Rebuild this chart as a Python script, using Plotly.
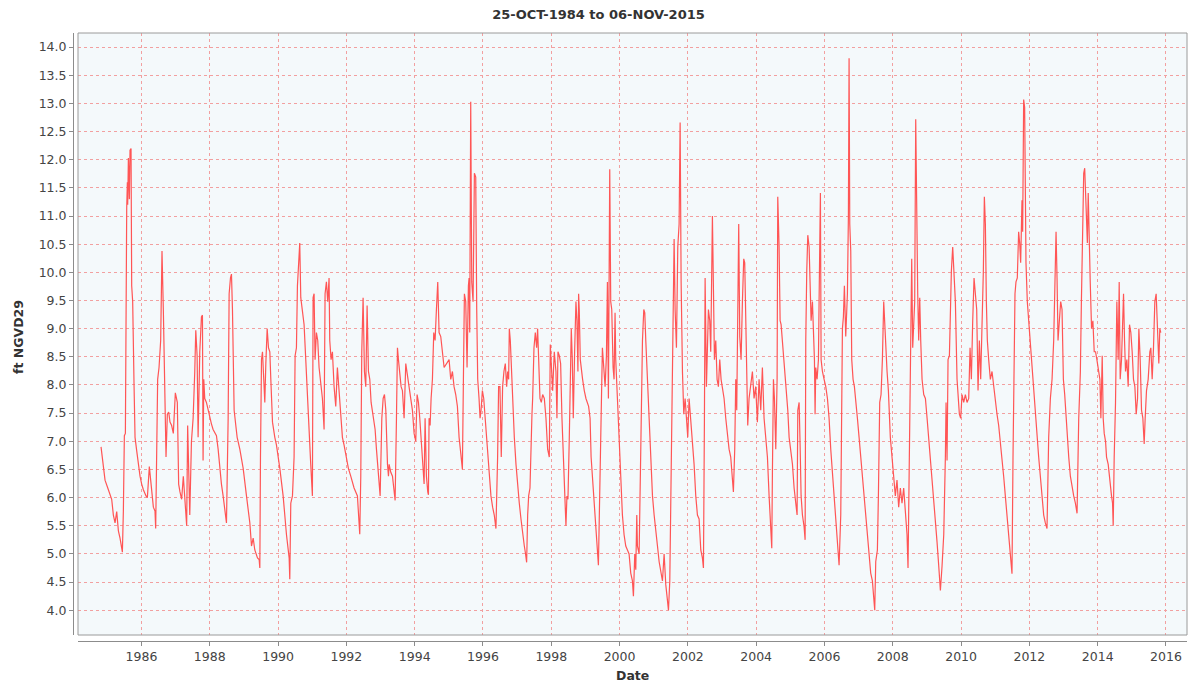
import datetime as dt
import plotly.graph_objects as go

# (decimal year, stage ft NGVD29) readings, grouped by period
stage_1984_1987 = [(1984.814,6.90),(1984.882,6.52),(1984.931,6.31),(1985.029,6.14),(1985.126,5.97),(1985.175,5.69),(1985.224,5.55),(1985.273,5.75),(1985.322,5.41),(1985.370,5.28),(1985.439,5.03),(1985.468,5.76),(1985.497,7.10),(1985.527,7.14),(1985.546,11.0),(1985.566,11.14),(1985.585,11.6),(1985.595,11.2),(1985.615,12.03),(1985.644,11.3),(1985.663,12.17),(1985.693,12.2),(1985.712,9.76),(1985.741,9.48),(1985.780,8.03),(1985.810,7.07),(1985.859,6.83),(1985.907,6.59),(1985.956,6.38),(1986.005,6.24),(1986.054,6.14),(1986.132,6.03),(1986.171,6.00),(1986.229,6.55),(1986.269,6.31),(1986.298,6.03),(1986.347,5.83),(1986.395,5.76),(1986.415,5.45),(1986.473,8.10),(1986.513,8.31),(1986.561,8.79),(1986.600,10.38),(1986.639,9.34),(1986.659,8.59),(1986.688,7.41),(1986.718,6.72),(1986.757,7.48),(1986.796,7.52),(1986.835,7.34),(1986.883,7.28),(1986.932,7.14),(1986.991,7.86),(1987.049,7.69),(1987.088,6.24),(1987.127,6.10),(1987.176,5.97),(1987.225,6.38),(1987.284,5.76),(1987.323,5.50),(1987.352,7.28),(1987.381,6.20)]

stage_1987_1990 = [(1987.414,5.69),(1987.463,7.00),(1987.512,7.41),(1987.560,8.24),(1987.590,8.97),(1987.629,8.52),(1987.658,7.07),(1987.707,8.59),(1987.756,9.21),(1987.785,9.24),(1987.804,6.66),(1987.824,8.10),(1987.853,7.76),(1987.902,7.69),(1987.951,7.55),(1988.000,7.41),(1988.048,7.31),(1988.097,7.21),(1988.195,7.10),(1988.244,6.86),(1988.292,6.52),(1988.341,6.24),(1988.390,6.03),(1988.439,5.76),(1988.488,5.55),(1988.537,7.41),(1988.566,9.62),(1988.605,9.90),(1988.634,9.97),(1988.663,9.34),(1988.712,7.55),(1988.761,7.28),(1988.800,7.07),(1988.878,6.86),(1988.976,6.52),(1989.073,6.03),(1989.171,5.55),(1989.220,5.14),(1989.269,5.28),(1989.317,5.07),(1989.395,4.93),(1989.444,4.90),(1989.464,4.75),(1989.483,6.72),(1989.513,8.45),(1989.542,8.59),(1989.581,7.90),(1989.610,7.69),(1989.640,8.38),(1989.679,9.00),(1989.718,8.66),(1989.757,8.59),(1989.786,8.10),(1989.835,7.34),(1989.903,7.07),(1989.952,6.93),(1990.050,6.52),(1990.147,6.03),(1990.245,5.34),(1990.323,4.93)]

stage_1990_1993 = [(1990.342,4.55),(1990.371,5.90),(1990.420,6.03),(1990.468,6.72),(1990.498,8.52),(1990.537,8.66),(1990.566,9.76),(1990.595,10.17),(1990.634,10.52),(1990.664,9.55),(1990.712,9.34),(1990.761,9.07),(1990.810,8.45),(1990.859,7.76),(1990.908,7.07),(1990.956,6.59),(1991.005,6.03),(1991.025,9.55),(1991.054,9.62),(1991.083,8.45),(1991.122,8.93),(1991.161,8.79),(1991.200,8.31),(1991.249,7.97),(1991.298,7.76),(1991.347,7.21),(1991.376,9.62),(1991.415,9.83),(1991.454,9.48),(1991.493,9.90),(1991.513,8.79),(1991.552,8.45),(1991.591,8.59),(1991.640,7.97),(1991.689,7.62),(1991.737,8.31),(1991.786,7.83),(1991.835,7.41),(1991.884,7.07),(1991.933,6.93),(1992.001,6.72),(1992.059,6.52),(1992.128,6.38),(1992.225,6.17),(1992.323,6.03),(1992.391,5.35),(1992.421,6.38),(1992.450,8.59),(1992.489,9.55),(1992.528,8.24),(1992.567,7.97),(1992.606,9.41),(1992.645,8.24),(1992.684,8.10),(1992.723,7.69),(1992.782,7.41),(1992.840,7.21),(1992.879,6.86),(1992.938,6.38),(1992.987,6.03),(1993.036,7.41),(1993.075,7.76),(1993.114,7.83),(1993.153,7.55),(1993.202,6.59),(1993.231,6.38)]

stage_1993_1996 = [(1993.250,6.59),(1993.299,6.45),(1993.348,6.38),(1993.396,6.17),(1993.426,5.95),(1993.465,7.41),(1993.494,8.66),(1993.523,8.45),(1993.562,8.24),(1993.601,7.97),(1993.640,7.90),(1993.689,7.41),(1993.738,8.38),(1993.787,8.17),(1993.836,7.97),(1993.884,7.76),(1993.933,7.55),(1993.982,7.14),(1994.031,7.00),(1994.070,7.83),(1994.109,7.69),(1994.148,7.41),(1994.187,7.07),(1994.226,6.72),(1994.275,6.24),(1994.304,7.41),(1994.343,6.38),(1994.382,6.10),(1994.402,6.05),(1994.421,7.41),(1994.451,7.28),(1994.480,7.76),(1994.519,8.10),(1994.558,8.93),(1994.597,8.79),(1994.636,9.34),(1994.675,9.83),(1994.714,8.93),(1994.763,8.86),(1994.861,8.31),(1995.007,8.45),(1995.056,8.10),(1995.105,8.24),(1995.153,7.97),(1995.202,7.83),(1995.251,7.62),(1995.300,7.07),(1995.349,6.79),(1995.378,6.66),(1995.397,6.50),(1995.427,8.10),(1995.456,9.62),(1995.495,9.48),(1995.534,8.31),(1995.573,9.76),(1995.593,9.90),(1995.612,8.93),(1995.641,13.03),(1995.671,9.83),(1995.710,9.48),(1995.749,11.76),(1995.788,11.69),(1995.817,9.34),(1995.846,8.10),(1995.885,7.76),(1995.915,7.41),(1995.944,7.55),(1995.983,7.90),(1996.022,7.76),(1996.061,7.41),(1996.100,7.07),(1996.139,6.72),(1996.178,6.38)]

stage_1996_1999 = [(1996.233,6.03),(1996.282,5.83),(1996.330,5.69),(1996.379,5.45),(1996.399,5.90),(1996.428,6.72),(1996.457,7.97),(1996.496,7.97),(1996.535,6.72),(1996.574,7.97),(1996.613,8.24),(1996.653,8.38),(1996.692,7.97),(1996.721,8.24),(1996.750,8.10),(1996.770,9.00),(1996.799,8.79),(1996.828,8.31),(1996.867,7.76),(1996.916,7.07),(1996.965,6.59),(1997.014,6.17),(1997.062,5.90),(1997.111,5.62),(1997.160,5.34),(1997.209,5.14),(1997.238,5.03),(1997.277,4.85),(1997.307,5.69),(1997.336,6.03),(1997.375,6.17),(1997.404,7.07),(1997.433,7.48),(1997.453,7.76),(1997.492,8.66),(1997.531,8.93),(1997.570,8.66),(1997.599,9.00),(1997.629,8.45),(1997.668,7.76),(1997.707,7.69),(1997.746,7.83),(1997.795,7.76),(1997.843,7.41),(1997.892,6.86),(1997.941,6.72),(1997.970,8.72),(1998.000,8.31),(1998.039,7.90),(1998.087,8.59),(1998.136,8.24),(1998.165,7.41),(1998.195,8.59),(1998.234,8.52),(1998.273,8.38),(1998.312,7.41),(1998.351,6.72),(1998.390,6.03),(1998.429,5.50),(1998.458,6.03),(1998.488,5.97),(1998.527,7.07),(1998.556,8.24),(1998.585,9.00),(1998.615,8.45),(1998.644,7.41),(1998.683,8.59),(1998.722,9.48),(1998.751,9.14),(1998.780,8.24),(1998.800,9.62),(1998.819,9.34),(1998.849,8.45),(1998.878,8.24),(1998.917,8.10),(1998.966,7.90),(1999.015,7.76),(1999.093,7.62)]

stage_1999_2002 = [(1999.136,7.41),(1999.166,6.72),(1999.205,6.38),(1999.253,5.90),(1999.302,5.55),(1999.351,5.07),(1999.380,4.80),(1999.497,8.66),(1999.517,8.45),(1999.546,8.24),(1999.576,7.97),(1999.615,8.52),(1999.644,9.83),(1999.673,7.76),(1999.712,11.83),(1999.741,9.48),(1999.771,9.34),(1999.810,8.31),(1999.839,8.10),(1999.868,9.28),(1999.888,8.45),(1999.937,7.76),(1999.985,7.07),(2000.034,6.38),(2000.083,5.69),(2000.132,5.34),(2000.181,5.14),(2000.230,5.07),(2000.278,5.00),(2000.327,4.66),(2000.376,4.52),(2000.405,4.25),(2000.444,5.00),(2000.474,4.72),(2000.503,5.69),(2000.522,5.14),(2000.571,5.00),(2000.620,6.86),(2000.669,8.79),(2000.708,9.34),(2000.737,9.28),(2000.766,8.79),(2000.815,8.10),(2000.864,7.41),(2000.913,6.72),(2000.962,6.03),(2001.010,5.69),(2001.059,5.34),(2001.108,5.14),(2001.157,4.86),(2001.206,4.66),(2001.254,4.52),(2001.303,5.00),(2001.352,4.45),(2001.401,4.17),(2001.430,4.00),(2001.469,4.52),(2001.498,6.03),(2001.528,7.76),(2001.567,9.48),(2001.596,10.59),(2001.625,9.34),(2001.664,8.66),(2001.703,10.45),(2001.742,10.86),(2001.772,12.66),(2001.801,9.83),(2001.840,8.24),(2001.879,7.48),(2001.918,7.76),(2001.957,7.41),(2001.996,7.07)]

stage_2002_2005 = [(2002.035,7.76),(2002.084,7.41),(2002.133,7.07),(2002.181,6.59),(2002.230,6.03),(2002.279,5.69),(2002.328,5.62),(2002.377,5.07),(2002.425,4.93),(2002.455,4.75),(2002.484,7.41),(2002.504,9.90),(2002.543,7.97),(2002.572,9.07),(2002.601,9.34),(2002.640,9.14),(2002.669,8.59),(2002.718,11.00),(2002.748,9.48),(2002.777,8.45),(2002.816,8.79),(2002.855,8.10),(2002.894,7.97),(2002.933,8.45),(2002.972,8.10),(2003.011,7.97),(2003.060,7.76),(2003.109,7.41),(2003.158,7.07),(2003.206,6.86),(2003.255,6.72),(2003.304,6.38),(2003.333,6.10),(2003.372,6.86),(2003.402,8.10),(2003.431,7.55),(2003.460,9.07),(2003.489,10.86),(2003.519,8.86),(2003.558,8.45),(2003.597,9.48),(2003.636,10.24),(2003.665,10.17),(2003.694,9.14),(2003.724,8.10),(2003.753,7.28),(2003.792,7.76),(2003.841,7.97),(2003.890,8.24),(2003.938,7.76),(2003.987,7.97),(2004.036,7.34),(2004.085,8.10),(2004.134,7.55),(2004.182,8.31),(2004.231,7.41),(2004.280,7.07),(2004.329,6.72),(2004.378,6.03),(2004.426,5.48),(2004.456,5.10),(2004.475,6.45),(2004.505,8.10),(2004.534,7.76),(2004.573,6.86),(2004.612,8.10),(2004.631,11.34),(2004.670,10.45),(2004.700,9.14),(2004.729,9.07),(2004.768,8.79),(2004.817,8.45),(2004.866,7.97),(2004.924,7.55)]

stage_2005_2007 = [(2004.963,7.07),(2005.012,6.86),(2005.061,6.59),(2005.109,6.17),(2005.158,5.83),(2005.197,5.69),(2005.217,7.55),(2005.256,7.69),(2005.285,6.93),(2005.314,6.03),(2005.353,5.69),(2005.402,5.48),(2005.432,5.25),(2005.451,8.79),(2005.480,10.03),(2005.510,10.66),(2005.549,10.45),(2005.578,9.48),(2005.607,9.14),(2005.646,9.48),(2005.676,8.79),(2005.705,8.45),(2005.724,7.48),(2005.744,8.31),(2005.783,8.10),(2005.822,8.45),(2005.841,9.48),(2005.880,11.41),(2005.900,8.45),(2005.939,8.24),(2005.988,8.10),(2006.037,7.97),(2006.086,7.76),(2006.134,7.41),(2006.183,6.86),(2006.232,6.38),(2006.281,6.03),(2006.330,5.62),(2006.378,5.21),(2006.427,4.80),(2006.476,5.69),(2006.525,9.00),(2006.554,9.21),(2006.583,9.76),(2006.622,8.86),(2006.671,9.62),(2006.700,11.00),(2006.720,13.80),(2006.740,10.86),(2006.769,10.38),(2006.798,8.45),(2006.837,8.10),(2006.876,7.97),(2006.915,7.76),(2006.964,7.41),(2007.013,7.07),(2007.062,6.72),(2007.110,6.38),(2007.159,6.03),(2007.208,5.69),(2007.257,5.34),(2007.306,4.93),(2007.354,4.66),(2007.403,4.52),(2007.452,4.10),(2007.472,4.00),(2007.501,4.86),(2007.550,5.07),(2007.579,6.03),(2007.618,7.69),(2007.657,7.83),(2007.696,8.45),(2007.735,9.48),(2007.764,9.07),(2007.794,8.66),(2007.833,8.24),(2007.872,7.90)]

stage_2007_2010 = [(2007.929,7.07),(2007.978,6.72),(2008.026,6.31),(2008.075,6.03),(2008.124,6.31),(2008.173,5.83),(2008.222,6.17),(2008.270,5.90),(2008.319,6.17),(2008.368,5.69),(2008.417,5.34),(2008.446,4.75),(2008.485,7.07),(2008.524,8.79),(2008.554,10.24),(2008.583,8.66),(2008.612,9.28),(2008.641,9.48),(2008.671,12.72),(2008.700,10.86),(2008.729,9.62),(2008.758,8.79),(2008.788,9.55),(2008.817,8.79),(2008.856,8.10),(2008.905,7.83),(2008.954,7.76),(2009.003,7.41),(2009.051,7.07),(2009.100,6.72),(2009.149,6.38),(2009.198,6.03),(2009.247,5.55),(2009.295,5.21),(2009.344,4.79),(2009.393,4.35),(2009.442,4.79),(2009.491,5.34),(2009.539,6.72),(2009.559,7.69),(2009.588,6.66),(2009.617,8.45),(2009.657,8.52),(2009.686,9.48),(2009.715,10.03),(2009.754,10.45),(2009.793,9.90),(2009.832,9.48),(2009.881,8.10),(2009.910,7.76),(2009.949,7.48),(2009.988,7.41),(2010.027,7.83),(2010.076,7.69),(2010.125,7.83),(2010.174,7.69),(2010.223,7.76),(2010.262,8.66),(2010.301,8.10),(2010.340,9.14),(2010.379,9.90),(2010.418,9.62),(2010.457,9.34),(2010.496,7.90),(2010.535,8.79),(2010.574,8.10),(2010.613,8.93),(2010.652,10.03),(2010.681,11.34),(2010.711,10.86),(2010.740,9.48),(2010.769,8.79),(2010.808,8.45)]

stage_2010_2013 = [(2010.857,8.10),(2010.906,8.24),(2010.954,7.97),(2011.003,7.69),(2011.052,7.48),(2011.101,7.28),(2011.150,7.00),(2011.198,6.72),(2011.247,6.38),(2011.296,6.03),(2011.345,5.69),(2011.394,5.21),(2011.442,5.00),(2011.491,4.65),(2011.521,6.72),(2011.550,8.79),(2011.579,9.62),(2011.608,9.83),(2011.647,9.90),(2011.686,10.72),(2011.716,10.52),(2011.745,10.17),(2011.784,11.28),(2011.804,10.72),(2011.833,13.07),(2011.862,12.93),(2011.901,10.17),(2011.940,9.48),(2011.979,9.14),(2012.028,8.79),(2012.077,8.45),(2012.126,7.97),(2012.175,7.55),(2012.223,7.07),(2012.272,6.72),(2012.321,6.38),(2012.370,5.97),(2012.419,5.69),(2012.467,5.55),(2012.516,5.45),(2012.565,7.07),(2012.614,7.76),(2012.663,8.10),(2012.711,8.79),(2012.741,9.62),(2012.780,10.72),(2012.809,9.90),(2012.838,8.79),(2012.877,9.14),(2012.916,9.48),(2012.955,9.34),(2012.994,8.10),(2013.033,7.83),(2013.073,7.41),(2013.112,7.07),(2013.151,6.72),(2013.199,6.38),(2013.248,6.17),(2013.297,6.03),(2013.346,5.90),(2013.395,5.72),(2013.444,7.41),(2013.492,8.24),(2013.522,9.48),(2013.561,11.00),(2013.590,11.76),(2013.619,11.85),(2013.658,11.00),(2013.697,10.52)]

stage_2013_2015 = [(2013.722,11.41),(2013.751,10.17),(2013.781,9.83),(2013.820,9.00),(2013.859,9.14),(2013.898,8.59),(2013.937,8.59),(2013.976,8.45),(2014.015,8.31),(2014.064,8.10),(2014.093,7.41),(2014.112,7.76),(2014.132,8.52),(2014.161,7.41),(2014.191,7.14),(2014.230,7.00),(2014.259,6.72),(2014.308,6.59),(2014.356,6.24),(2014.405,6.03),(2014.435,5.90),(2014.454,5.50),(2014.483,6.72),(2014.522,7.69),(2014.561,9.48),(2014.600,8.45),(2014.630,9.83),(2014.659,8.10),(2014.698,8.45),(2014.737,9.34),(2014.757,9.62),(2014.786,8.79),(2014.815,8.24),(2014.854,8.45),(2014.893,7.97),(2014.932,9.07),(2014.971,8.93),(2015.010,8.59),(2015.049,8.10),(2015.089,7.97),(2015.128,7.48),(2015.167,7.76),(2015.206,9.00),(2015.245,8.45),(2015.284,7.55),(2015.323,7.41),(2015.362,6.95),(2015.391,7.41),(2015.430,7.90),(2015.479,8.10),(2015.528,8.59),(2015.557,8.66),(2015.596,8.10),(2015.635,8.66),(2015.674,9.48),(2015.713,9.62),(2015.752,9.07),(2015.791,8.38),(2015.820,9.00),(2015.849,8.93)]

y_ticks = [4.0 + 0.5 * i for i in range(21)]
title_text = "25-OCT-1984 to 06-NOV-2015"
y_title = "ft NGVD29"
x_title = "Date"


def dec_to_date(y):
    yr = int(y)
    start = dt.datetime(yr, 1, 1)
    end = dt.datetime(yr + 1, 1, 1)
    return start + (end - start) * (y - yr)


periods = [stage_1984_1987, stage_1987_1990, stage_1990_1993, stage_1993_1996,
           stage_1996_1999, stage_1999_2002, stage_2002_2005, stage_2005_2007,
           stage_2007_2010, stage_2010_2013, stage_2013_2015]
xs, ys = [], []
for p in periods:
    for t, v in p:
        xs.append(dec_to_date(t))
        ys.append(v)

FONT = "DejaVu Sans"
fig = go.Figure(go.Scatter(x=xs, y=ys, mode="lines",
                           line=dict(color="#ff5555", width=1.2),
                           showlegend=False))

axis_common = dict(showgrid=True, gridcolor="#f2a0a0", griddash="dot", gridwidth=1,
                   showline=True, linecolor="#8c8c8c", linewidth=1,
                   ticks="outside", ticklen=4, tickcolor="#8c8c8c",
                   tickfont=dict(family=FONT, size=12.5, color="#444444"),
                   zeroline=False, automargin=False)

fig.update_layout(
    width=1197, height=687, autosize=False,
    margin=dict(l=73, r=10, t=33, b=46, pad=0),
    paper_bgcolor="white", plot_bgcolor="#f4f9fb",
    title=dict(text="<b>" + title_text + "</b>", x=0.5, xref="container",
               y=1 - 14 / 687, yref="container", yanchor="middle", xanchor="center",
               font=dict(family=FONT, size=13, color="#333333"), automargin=False),
    xaxis=dict(domain=[5 / 1114, 1], anchor="free", position=0,
               type="date", range=[dec_to_date(1984.141), dec_to_date(2016.615)],
               tick0="1986-01-01", dtick="M24", tickformat="%Y", **axis_common),
    yaxis=dict(domain=[6 / 608, 1], anchor="free", position=0,
               range=[3.56, 14.25], tickvals=y_ticks,
               ticktext=[f"{v:.1f}" for v in y_ticks], **axis_common),
    shapes=[dict(type="rect", xref="x domain", yref="y domain", x0=0, x1=1, y0=0, y1=1,
                 line=dict(color="#9a9a9a", width=1), layer="above")],
    annotations=[
        dict(text="<b>" + y_title + "</b>", xref="paper", yref="paper",
             x=-55 / 1114, y=0.5, textangle=-90, showarrow=False,
             xanchor="center", yanchor="middle",
             font=dict(family=FONT, size=12.5, color="#333333")),
        dict(text="<b>" + x_title + "</b>", xref="paper", yref="paper",
             x=(632 - 73) / 1114, y=-(675 - 641) / 608, showarrow=False,
             xanchor="center", yanchor="middle",
             font=dict(family=FONT, size=12.5, color="#333333")),
    ],
)

fig.write_html("out.html", config={"displayModeBar": False},
               post_script="document.body.style.margin='0';document.body.style.overflow='hidden';")
